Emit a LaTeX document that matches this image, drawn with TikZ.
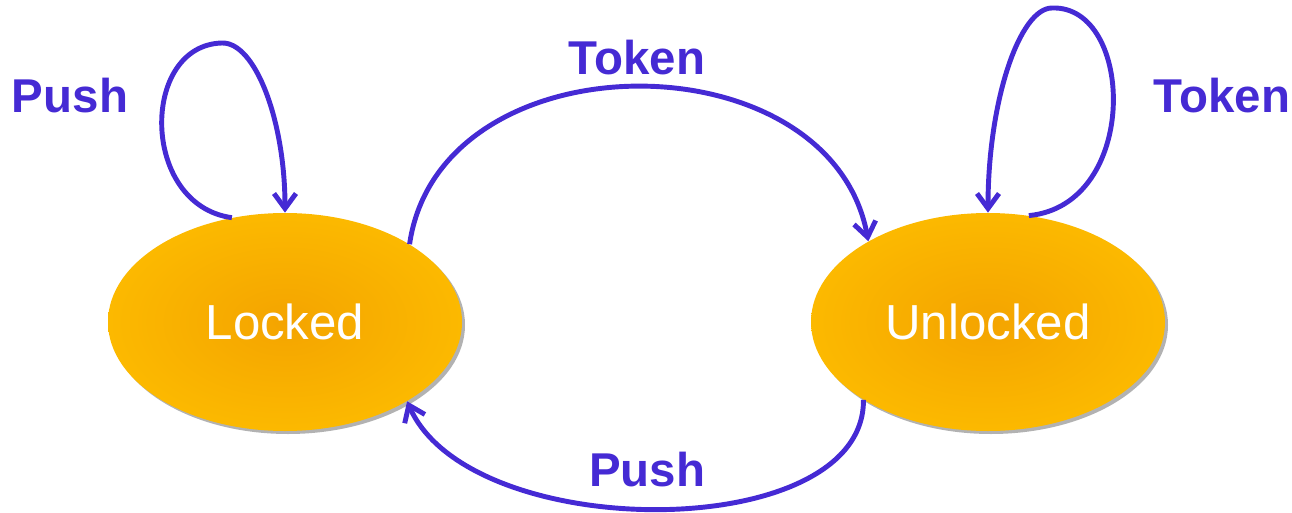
\documentclass[tikz,border=0pt]{standalone}
\usepackage{fontspec}
\setmainfont{Liberation Sans}
\usetikzlibrary{arrows.meta,shapes.geometric,shadows}
\definecolor{fsmblue}{RGB}{69,42,212}
\definecolor{fsmcore}{RGB}{244,164,0}
\definecolor{fsmrim}{RGB}{252,185,0}
\tikzset{
 fsm state/.style={ellipse,minimum width=7.08cm,minimum height=4.36cm,
                   inner sep=0pt,shading=radial,inner color=fsmcore,
                   outer color=fsmrim,text=white,
                   drop shadow={shadow xshift=.06cm,shadow yshift=-.06cm,
                                opacity=.3,fill=black},
                   font=\fontsize{28}{33}\selectfont},
 fsm edge/.style={line width=2.8pt,fsmblue,
                  -{Straight Barb[length=.3cm,width=.44cm]}},
 fsm label/.style={text=fsmblue,font=\fontsize{27}{32}\selectfont\bfseries}
}

\begin{document}
\begin{tikzpicture}
 \useasboundingbox (0,0) rectangle (25.84,10.24);
 % the two states of the turnstile
 \node[fsm state] (locked) at (5.70,3.80) {Locked};
 \node[fsm state] (unlocked) at (19.76,3.80) {Unlocked};

 % self loops
 \draw[fsm edge] (locked.117) .. controls (2.80,6.14) and (2.80,9.34) .. (4.44,9.38)
   .. controls (5.10,9.40) and (5.70,7.84) .. (locked.north);
 \draw[fsm edge] (unlocked.69) .. controls (22.80,6.14) and (22.70,10.14) .. (21.04,10.08)
   .. controls (20.40,10.08) and (19.76,8.24) .. (unlocked.north);

 % transitions between the states
 \draw[fsm edge] (locked.32) .. controls (8.80,9.54) and (16.60,9.54) .. (unlocked.146);
 \draw[fsm edge] (unlocked.212) .. controls (17.30,-0.66) and (9.40,-0.66) .. (locked.327);

 \node[fsm label] (push loop) at (1.40,8.32) {Push};
 \node[fsm label] (token arc) at (12.74,9.08) {Token};
 \node[fsm label] (token loop) at (24.44,8.32) {Token};
 \node[fsm label] (push arc) at (12.94,0.84) {Push};
\end{tikzpicture}
\end{document}
